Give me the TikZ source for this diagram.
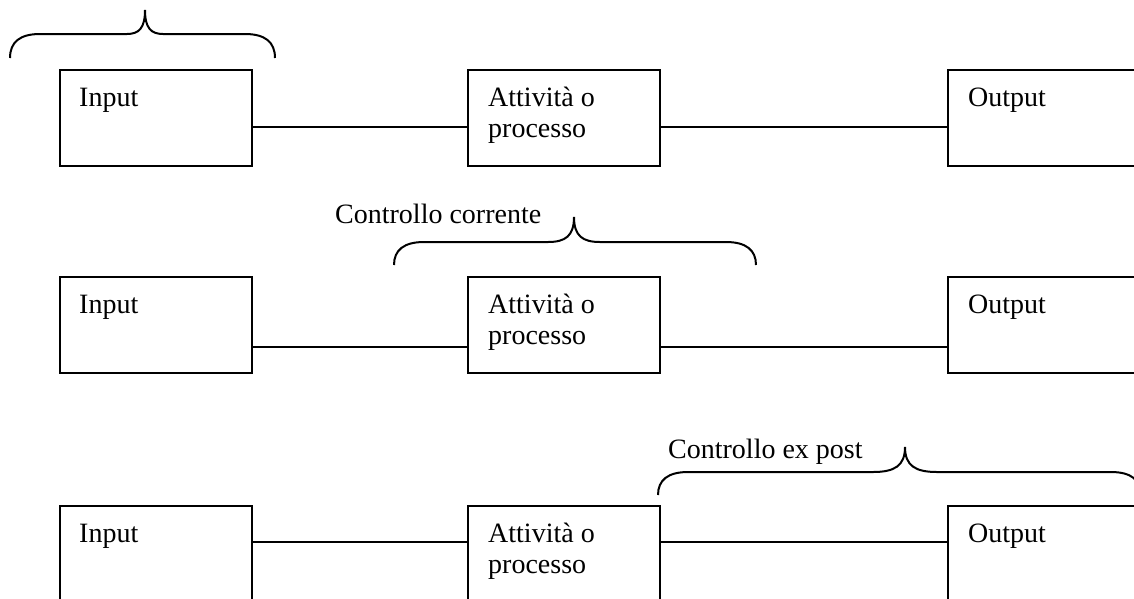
\documentclass[tikz,border=0pt]{standalone}
\usepackage{fontspec}
\setmainfont{Liberation Serif}

% curly brace: #1 left x, #2 tip x, #3 right x, #4 end y, #5 bar y, #6 tip y, #7 tip radius
\newcommand\drawbrace[7]{%
  \draw[bracestyle] (#1,#4) .. controls (#1,#5+8) and (#1+10,#5) .. (#1+30,#5)
    -- (#2-#7,#5) .. controls (#2-#7/3,#5) and (#2,#5-6) .. (#2,#6)
    .. controls (#2,#5-6) and (#2+#7/3,#5) .. (#2+#7,#5)
    -- (#3-30,#5) .. controls (#3-10,#5) and (#3,#5+8) .. (#3,#4);}

\begin{document}
\begin{tikzpicture}[x=1pt,y=-1pt,
  box/.style={draw, line width=2pt, minimum width=192pt, minimum height=96pt,
    inner sep=0pt, anchor=north west},
  txt/.style={inner sep=0pt, anchor=base west, font=\fontsize{28pt}{31pt}\selectfont},
  link/.style={line width=2pt},
  bracestyle/.style={line width=2pt}]
\useasboundingbox (0,0) rectangle (1134,598);
\clip (0,0) rectangle (1134,598);

% row 1
\node[box] (i1) at (59,69) {};
\node[box] (a1) at (467,69) {};
\node[box] (o1) at (947,69) {};
\node[txt] (ti1) at ([xshift=20pt,yshift=-37pt]i1.north west) {Input};
\node[txt] (ta1) at ([xshift=21pt,yshift=-37pt]a1.north west)
  {\begin{tabular}[t]{@{}l@{}}Attività o\\processo\end{tabular}};
\node[txt] (to1) at ([xshift=21pt,yshift=-37pt]o1.north west) {Output};
\draw[link] ([yshift=-9pt]i1.east) -- ([yshift=-9pt]a1.west);
\draw[link] ([yshift=-9pt]a1.east) -- ([yshift=-9pt]o1.west);
\drawbrace{10}{145}{275}{58}{34}{10}{18}

% row 2
\node[box] (i2) at (59,276) {};
\node[box] (a2) at (467,276) {};
\node[box] (o2) at (947,276) {};
\node[txt] (ti2) at ([xshift=20pt,yshift=-37pt]i2.north west) {Input};
\node[txt] (ta2) at ([xshift=21pt,yshift=-37pt]a2.north west)
  {\begin{tabular}[t]{@{}l@{}}Attività o\\processo\end{tabular}};
\node[txt] (to2) at ([xshift=21pt,yshift=-37pt]o2.north west) {Output};
\draw[link] ([yshift=-22pt]i2.east) -- ([yshift=-22pt]a2.west);
\draw[link] ([yshift=-22pt]a2.east) -- ([yshift=-22pt]o2.west);
\drawbrace{394}{574}{756}{265}{242}{217}{26}
\node[txt] (c2) at (335,223) {Controllo corrente};

% row 3
\node[box] (i3) at (59,505) {};
\node[box] (a3) at (467,505) {};
\node[box] (o3) at (947,505) {};
\node[txt] (ti3) at ([xshift=20pt,yshift=-37pt]i3.north west) {Input};
\node[txt] (ta3) at ([xshift=21pt,yshift=-37pt]a3.north west)
  {\begin{tabular}[t]{@{}l@{}}Attività o\\processo\end{tabular}};
\node[txt] (to3) at ([xshift=21pt,yshift=-37pt]o3.north west) {Output};
\draw[link] ([yshift=12pt]i3.east) -- ([yshift=12pt]a3.west);
\draw[link] ([yshift=12pt]a3.east) -- ([yshift=12pt]o3.west);
\drawbrace{658}{905}{1141}{495}{472}{447}{32}
\node[txt] (c3) at (668,458) {Controllo ex post};
\end{tikzpicture}
\end{document}
